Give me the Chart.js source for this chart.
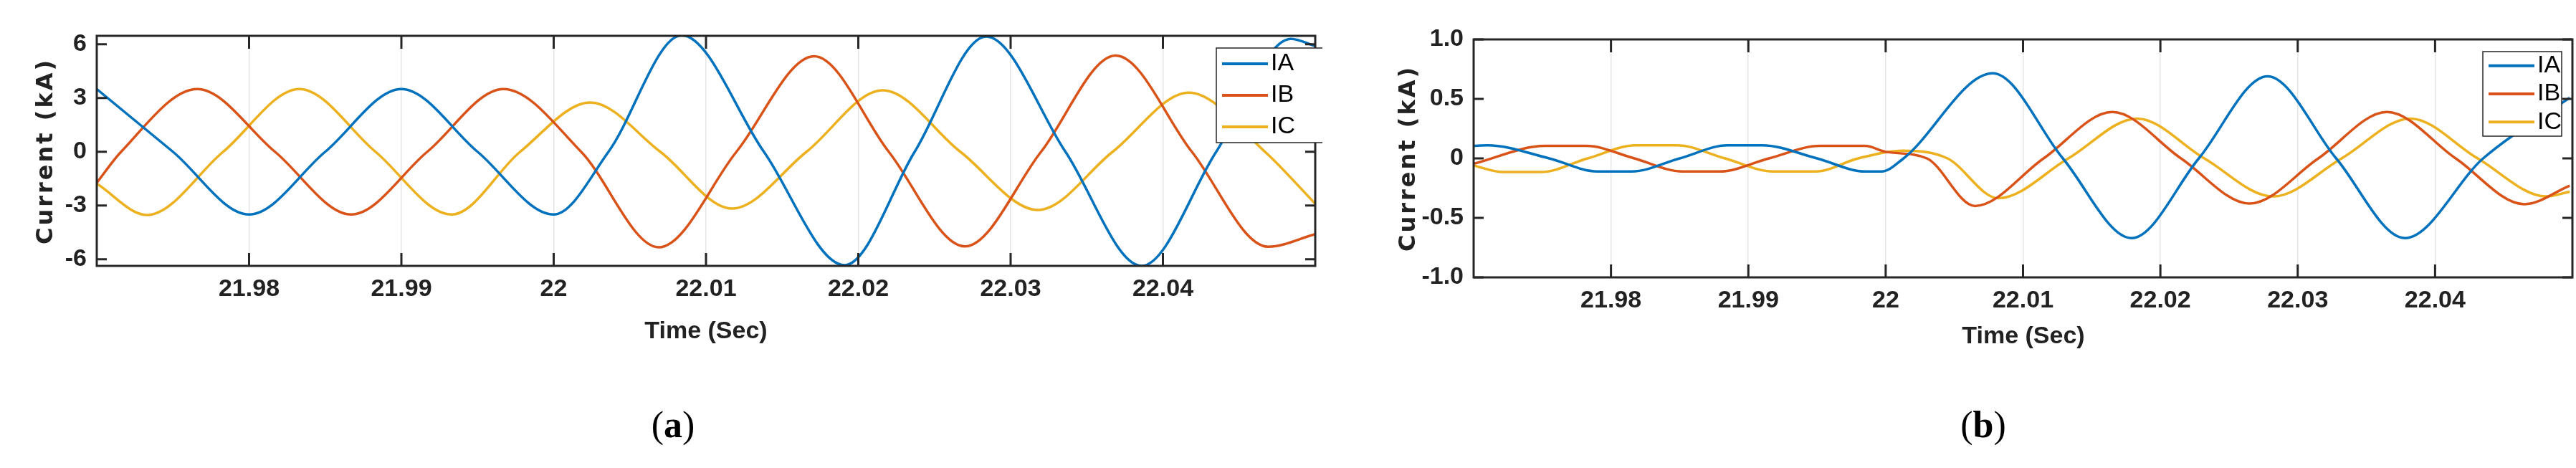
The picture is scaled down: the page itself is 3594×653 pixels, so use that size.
<!DOCTYPE html>
<html>
<head>
<meta charset="utf-8">
<script src="https://cdn.jsdelivr.net/npm/chart.js@4"></script>
<style>
  body { margin: 0; background: #fff; width: 3594px; height: 653px; position: relative; overflow: hidden; }
  canvas { position: absolute; top: 0; }
  .lbl { position: absolute; color: #222; white-space: nowrap; transform: translate(-50%, -50%); }
  .xt { font: bold 34px "Liberation Sans Narrow", "Liberation Sans", sans-serif; }
  .yt { font: bold 32px "DejaVu Sans", sans-serif; transform: translate(-50%, -50%) rotate(-90deg); letter-spacing: 3px; }
  .cap { font: 52px "Liberation Serif", serif; color: #000; }
</style>
</head>
<body>
<canvas id="chart-a"></canvas>
<canvas id="chart-b"></canvas>
<div class="lbl yt" style="left:62px;top:211px">Current (kA)</div>
<div class="lbl xt" style="left:985px;top:460px">Time (Sec)</div>
<div class="lbl cap" style="left:939px;top:592px">(<b>a</b>)</div>
<div class="lbl yt" style="left:1963px;top:221px">Current (kA)</div>
<div class="lbl xt" style="left:2823px;top:467px">Time (Sec)</div>
<div class="lbl cap" style="left:2767px;top:592px">(<b>b</b>)</div>
<script>
"use strict";

const seriesNames = ["IA", "IB", "IC"];
const seriesColors = ["#0072BD", "#D95319", "#EDB120"];
const timeTicks = [21.98, 21.99, 22, 22.01, 22.02, 22.03, 22.04];
const yTicksA = [6, 3, 0, -3, -6];
const yTicksB = [1.0, 0.5, 0, -0.5, -1.0];

// panel (a): key points (extrema and crossings)
const iaTimeA = [21.97, 21.975, 21.98, 21.985, 21.99, 21.995, 22.0, 22.0036, 22.0084, 22.0138, 22.0191, 22.0237, 22.0284, 22.0336, 22.0386, 22.0435, 22.0484, 22.05];
const iaValA = [3.5, 0, -3.5, 0, 3.5, 0, -3.5, 0, 6.5, 0, -6.33, 0, 6.43, 0, -6.37, 0, 6.3, 5.9];
const ibTimeA = [21.97, 21.9716, 21.9766, 21.9817, 21.9867, 21.9917, 21.9967, 22.0018, 22.0069, 22.012, 22.0171, 22.022, 22.027, 22.032, 22.0369, 22.0419, 22.0469, 22.05];
const ibValA = [-1.73, 0, 3.5, 0, -3.5, 0, 3.5, 0, -5.33, 0, 5.33, 0, -5.28, 0, 5.37, 0, -5.3, -4.6];
const icTimeA = [21.97, 21.9733, 21.9783, 21.9833, 21.9883, 21.9933, 21.9978, 22.0024, 22.007, 22.0117, 22.0166, 22.0216, 22.0267, 22.0318, 22.0367, 22.0417, 22.0467, 22.05];
const icValA = [-1.78, -3.53, 0, 3.5, 0, -3.5, 0, 2.75, 0, -3.17, 0, 3.43, 0, -3.25, 0, 3.3, 0, -2.9];

// panel (b)
const iaTimeB = [21.97, 21.971, 21.9755, 21.979, 21.9815, 21.985, 21.9885, 21.991, 21.995, 21.9985, 21.9997, 22.0013, 22.0078, 22.0129, 22.0179, 22.0228, 22.0278, 22.0328, 22.0378, 22.0435, 22.0498];
const iaValB = [0.105, 0.11, 0, -0.11, -0.11, 0, 0.11, 0.11, 0, -0.11, -0.11, 0, 0.715, 0, -0.67, 0, 0.69, 0, -0.67, 0, 0.51];
const ibTimeB = [21.97, 21.9752, 21.9782, 21.9817, 21.9852, 21.9879, 21.9915, 21.9952, 21.9985, 22.0, 22.003, 22.0065, 22.0115, 22.0165, 22.0215, 22.0265, 22.0315, 22.0365, 22.0415, 22.0465, 22.0498];
const ibValB = [-0.045, 0.105, 0.105, 0, -0.11, -0.11, 0, 0.105, 0.105, 0.055, 0, -0.4, 0, 0.39, 0, -0.38, 0, 0.39, 0, -0.385, -0.23];
const icTimeB = [21.97, 21.9721, 21.9749, 21.9783, 21.9818, 21.9848, 21.9883, 21.9918, 21.9949, 21.998, 22.0013, 22.0045, 22.0082, 22.0133, 22.0183, 22.0232, 22.0282, 22.0332, 22.0382, 22.0431, 22.0481, 22.0498];
const icValB = [-0.06, -0.115, -0.115, 0, 0.11, 0.11, 0, -0.11, -0.11, 0, 0.065, 0, -0.335, 0, 0.335, 0, -0.32, 0, 0.335, 0, -0.32, -0.28];

const tickFont = '"Liberation Sans Narrow", "Liberation Sans", sans-serif';

function toPoints(times, values) {
  return times.map((t, i) => ({ x: t, y: values[i] }));
}

const framePlugin = {
  id: "frame",
  afterDatasetsDraw(chart, args, opts) {
    const { ctx, chartArea: a, scales } = chart;
    ctx.save();
    ctx.strokeStyle = "#262626";
    ctx.lineWidth = 3;
    ctx.beginPath();
    timeTicks.forEach((t) => {
      const px = scales.x.getPixelForValue(t);
      ctx.moveTo(px, a.top); ctx.lineTo(px, a.top + 18);
      ctx.moveTo(px, a.bottom); ctx.lineTo(px, a.bottom - 18);
    });
    opts.yTicks.forEach((v) => {
      const py = scales.y.getPixelForValue(v);
      ctx.moveTo(a.left, py); ctx.lineTo(a.left + 14, py);
      ctx.moveTo(a.right, py); ctx.lineTo(a.right - 14, py);
    });
    ctx.stroke();
    ctx.strokeRect(a.left, a.top, a.right - a.left, a.bottom - a.top);

    // legend box
    const lg = opts.legend;
    ctx.fillStyle = "#fff";
    ctx.fillRect(lg.x, lg.y, lg.w, lg.h);
    ctx.lineWidth = 1.5;
    ctx.strokeStyle = "#262626";
    ctx.strokeRect(lg.x, lg.y, lg.w, lg.h);
    ctx.font = "34px " + tickFont;
    ctx.textBaseline = "middle";
    seriesNames.forEach((name, i) => {
      const cy = lg.y + lg.h * (i + 0.5) / 3;
      ctx.strokeStyle = seriesColors[i];
      ctx.lineWidth = 4;
      ctx.beginPath();
      ctx.moveTo(lg.x + 8, cy); ctx.lineTo(lg.x + 72, cy);
      ctx.stroke();
      ctx.fillStyle = "#000";
      ctx.fillText(name, lg.x + 76, cy);
    });
    ctx.restore();
  },
};

function makeChart(id, left, width, cfg) {
  const canvas = document.getElementById(id);
  canvas.style.left = left + "px";
  canvas.style.width = width + "px";
  canvas.style.height = "653px";
  const series = [
    toPoints(cfg.ia[0], cfg.ia[1]),
    toPoints(cfg.ib[0], cfg.ib[1]),
    toPoints(cfg.ic[0], cfg.ic[1]),
  ];
  return new Chart(canvas, {
    type: "line",
    data: {
      datasets: seriesNames.map((name, i) => ({
        label: name,
        data: series[i],
        borderColor: seriesColors[i],
        borderWidth: 3.5,
        pointRadius: 0,
        cubicInterpolationMode: "monotone",
      })),
    },
    options: {
      responsive: false,
      animation: false,
      devicePixelRatio: 1,
      layout: { padding: { top: cfg.top, right: width - cfg.plotRight, left: 0, bottom: 0 } },
      plugins: {
        legend: { display: false },
        tooltip: { enabled: false },
        frame: { yTicks: cfg.yTicks, legend: cfg.legend },
      },
      scales: {
        x: {
          type: "linear",
          min: 21.97,
          max: 22.05,
          afterBuildTicks: (s) => { s.ticks = timeTicks.map((v) => ({ value: v })); },
          afterFit: (s) => { s.height = 653 - cfg.bottom; },
          ticks: {
            color: "#222",
            padding: 12,
            maxRotation: 0,
            font: { family: tickFont, size: 34, weight: "bold" },
            callback: (v) => String(Math.round(v * 100) / 100),
          },
          grid: { color: "#e6e6e6", lineWidth: 1.5, drawTicks: false },
          border: { display: false },
        },
        y: {
          min: cfg.yMin,
          max: cfg.yMax,
          afterBuildTicks: (s) => { s.ticks = cfg.yTicks.map((v) => ({ value: v })); },
          afterFit: (s) => { s.width = cfg.plotLeft; },
          ticks: {
            color: "#222",
            padding: 6,
            font: { family: tickFont, size: 34, weight: "bold" },
            callback: cfg.yFmt,
          },
          grid: { display: false },
          border: { display: false },
        },
      },
    },
    plugins: [framePlugin],
  });
}

function initCharts() {
  makeChart("chart-a", 0, 1845, {
    ia: [iaTimeA, iaValA], ib: [ibTimeA, ibValA], ic: [icTimeA, icValA],
    top: 50, bottom: 371, plotLeft: 135, plotRight: 1835,
    yMin: -6.37, yMax: 6.47, yTicks: yTicksA,
    yFmt: (v) => String(v),
    legend: { x: 1697, y: 67, w: 150, h: 132 },
  });
  makeChart("chart-b", 1880, 1714, {
    ia: [iaTimeB, iaValB], ib: [ibTimeB, ibValB], ic: [icTimeB, icValB],
    top: 55, bottom: 387, plotLeft: 176, plotRight: 1709,
    yMin: -1, yMax: 1, yTicks: yTicksB,
    yFmt: (v) => (v === 0 ? "0" : v.toFixed(1)),
    legend: { x: 1584, y: 72, w: 110, h: 118 },
  });
}

initCharts();
</script>
</body>
</html>
